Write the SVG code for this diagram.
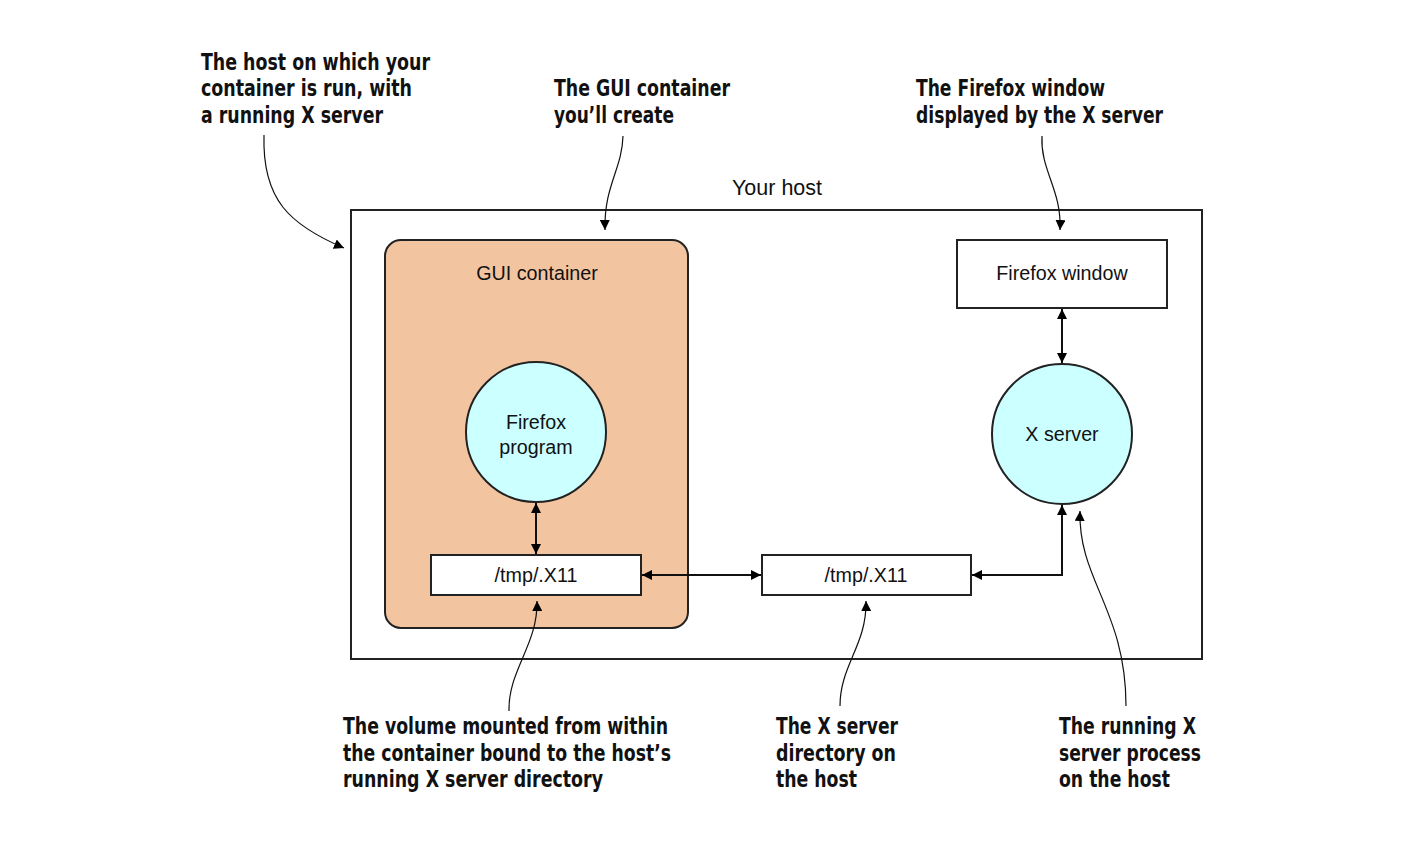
<svg xmlns="http://www.w3.org/2000/svg" width="1403" height="844" viewBox="0 0 1403 844">
<defs>
<marker id="ah" viewBox="0 0 10 10" refX="10" refY="5" markerWidth="10" markerHeight="10" markerUnits="userSpaceOnUse" orient="auto-start-reverse">
<path d="M0,0 L10,5 L0,10 z" fill="#000"/>
</marker>
<style>
.note{font-family:"Liberation Sans Narrow","DejaVu Sans Condensed","Liberation Sans",sans-serif;font-weight:bold;font-size:22.5px;fill:#111}
.lbl{font-family:"Liberation Sans",Arial,sans-serif;font-size:19.7px;fill:#111;text-anchor:middle}
.box{fill:#fff;stroke:#222;stroke-width:2}
.circ{fill:#ccffff;stroke:#222;stroke-width:2}
.conn{fill:none;stroke:#111;stroke-width:2}
.call{fill:none;stroke:#111;stroke-width:1.2}
</style>
</defs>
<rect width="1403" height="844" fill="#fff"/>
<g id="host">
<rect x="351" y="210" width="851" height="449" class="box"/>
<text x="777" y="195" class="lbl" style="font-size:21.5px">Your host</text>
</g>
<g id="gui-container">
<rect x="385" y="240" width="303" height="388" rx="16" fill="#f3c4a0" stroke="#222" stroke-width="2"/>
<text x="537" y="280" class="lbl">GUI container</text>
</g>
<g id="firefox-program">
<circle cx="536" cy="432" r="70" class="circ"/>
<text x="536" y="429" class="lbl">Firefox</text>
<text x="536" y="454" class="lbl">program</text>
</g>
<g id="tmp-container">
<rect x="431" y="555" width="210" height="40" class="box"/>
<text x="536" y="582" class="lbl">/tmp/.X11</text>
</g>
<g id="tmp-host">
<rect x="762" y="555" width="209" height="40" class="box"/>
<text x="866" y="582" class="lbl">/tmp/.X11</text>
</g>
<g id="firefox-window">
<rect x="957" y="240" width="210" height="68" class="box"/>
<text x="1062" y="280" class="lbl">Firefox window</text>
</g>
<g id="x-server">
<circle cx="1062" cy="434" r="70" class="circ"/>
<text x="1062" y="441" class="lbl">X server</text>
</g>
<g id="connectors">
<line x1="536" y1="503" x2="536" y2="554" class="conn" marker-start="url(#ah)" marker-end="url(#ah)"/>
<line x1="642" y1="575" x2="761" y2="575" class="conn" marker-start="url(#ah)" marker-end="url(#ah)"/>
<path d="M1062,505 L1062,575 L972,575" class="conn" marker-start="url(#ah)" marker-end="url(#ah)"/>
<line x1="1062" y1="309" x2="1062" y2="363" class="conn" marker-start="url(#ah)" marker-end="url(#ah)"/>
</g>
<g id="callouts">
<path d="M264,135 C262,200 290,225 344,248" class="call" marker-end="url(#ah)"/>
<path d="M623,136 C622,170 604,185 605,230" class="call" marker-end="url(#ah)"/>
<path d="M1042,136 C1040,170 1062,190 1060,230" class="call" marker-end="url(#ah)"/>
<path d="M509,711 C508,670 538,645 537,601" class="call" marker-end="url(#ah)"/>
<path d="M840,706 C840,665 867,645 866,601" class="call" marker-end="url(#ah)"/>
<path d="M1126,706 C1126,610 1078,580 1080,511" class="call" marker-end="url(#ah)"/>
</g>
<g id="notes">
<text class="note" x="201" y="70" textLength="229" lengthAdjust="spacingAndGlyphs">The host on which your</text>
<text class="note" x="201" y="96" textLength="211" lengthAdjust="spacingAndGlyphs">container is run, with</text>
<text class="note" x="201" y="123" textLength="182" lengthAdjust="spacingAndGlyphs">a running X server</text>
<text class="note" x="554" y="96" textLength="176" lengthAdjust="spacingAndGlyphs">The GUI container</text>
<text class="note" x="554" y="123" textLength="120" lengthAdjust="spacingAndGlyphs">you’ll create</text>
<text class="note" x="916" y="96" textLength="189" lengthAdjust="spacingAndGlyphs">The Firefox window</text>
<text class="note" x="916" y="123" textLength="247" lengthAdjust="spacingAndGlyphs">displayed by the X server</text>
<text class="note" x="343" y="734" textLength="325" lengthAdjust="spacingAndGlyphs">The volume mounted from within</text>
<text class="note" x="343" y="761" textLength="328" lengthAdjust="spacingAndGlyphs">the container bound to the host’s</text>
<text class="note" x="343" y="787" textLength="260" lengthAdjust="spacingAndGlyphs">running X server directory</text>
<text class="note" x="776" y="734" textLength="122" lengthAdjust="spacingAndGlyphs">The X server</text>
<text class="note" x="776" y="761" textLength="120" lengthAdjust="spacingAndGlyphs">directory on</text>
<text class="note" x="776" y="787" textLength="81" lengthAdjust="spacingAndGlyphs">the host</text>
<text class="note" x="1059" y="734" textLength="137" lengthAdjust="spacingAndGlyphs">The running X</text>
<text class="note" x="1059" y="761" textLength="142" lengthAdjust="spacingAndGlyphs">server process</text>
<text class="note" x="1059" y="787" textLength="111" lengthAdjust="spacingAndGlyphs">on the host</text>
</g>
</svg>
